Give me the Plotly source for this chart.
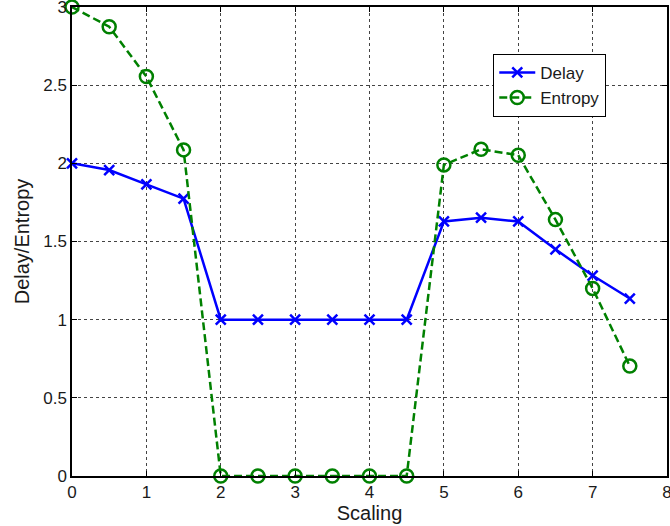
import plotly.graph_objects as go

# Scaling factors and measured values
scaling = [0, 0.5, 1, 1.5, 2, 2.5, 3, 3.5, 4, 4.5, 5, 5.5, 6, 6.5, 7, 7.5]
delay = [2.0, 1.957, 1.865, 1.774, 1.0, 1.0, 1.0, 1.0, 1.0, 1.0,
         1.628, 1.652, 1.628, 1.45, 1.282, 1.135]
entropy = [3.0, 2.874, 2.555, 2.086, 0.0, 0.0, 0.0, 0.0, 0.0, 0.0,
           1.99, 2.09, 2.052, 1.64, 1.2, 0.703]

x_ticks = [0, 1, 2, 3, 4, 5, 6, 7, 8]
y_ticks = [0, 0.5, 1, 1.5, 2, 2.5, 3]
y_tick_text = ["0", "0.5", "1", "1.5", "2", "2.5", "3"]

font_family = "Liberation Sans, Arial, sans-serif"

fig = go.Figure()
fig.add_trace(go.Scatter(
    x=scaling, y=delay, name="Delay", mode="lines+markers", cliponaxis=False,
    line=dict(color="#0000ff", width=2.5),
    marker=dict(symbol="x-thin-open", size=10, line=dict(color="#0000ff", width=2.5)),
))
fig.add_trace(go.Scatter(
    x=scaling, y=entropy, name="Entropy", mode="lines+markers", cliponaxis=False,
    line=dict(color="#008000", width=2.5, dash="8px,4px"),
    marker=dict(symbol="circle-open", size=13, color="#008000",
                line=dict(color="#008000", width=2.5)),
))

axis_common = dict(
    showline=True, linecolor="black", linewidth=1.5, mirror="ticks",
    ticks="inside", ticklen=5, tickcolor="black",
    showgrid=True, gridcolor="#444444", gridwidth=1, griddash="dot",
    zeroline=False, ticklabeloverflow="allow", automargin=False,
    tickfont=dict(family=font_family, size=17, color="#1a1a1a"),
)

fig.update_layout(
    width=670, height=526,
    margin=dict(l=72, r=3, t=7, b=50, autoexpand=False),
    paper_bgcolor="white", plot_bgcolor="white",
    font=dict(family=font_family, color="#1a1a1a"),
    showlegend=True,
    legend=dict(
        x=0.708, y=0.90, xanchor="left", yanchor="top",
        bgcolor="white", bordercolor="black", borderwidth=1,
        font=dict(family=font_family, size=17, color="#1a1a1a"),
        tracegroupgap=0, itemwidth=36,
    ),
    xaxis=dict(
        range=[0, 8], tickvals=x_ticks,
        title=dict(text="Scaling", font=dict(family=font_family, size=20), standoff=2),
        **axis_common,
    ),
    yaxis=dict(
        range=[0, 3], tickvals=y_ticks, ticktext=y_tick_text,
        title=dict(text="Delay/Entropy", font=dict(family=font_family, size=20), standoff=8),
        **axis_common,
    ),
)

fig.write_html("out.html")
